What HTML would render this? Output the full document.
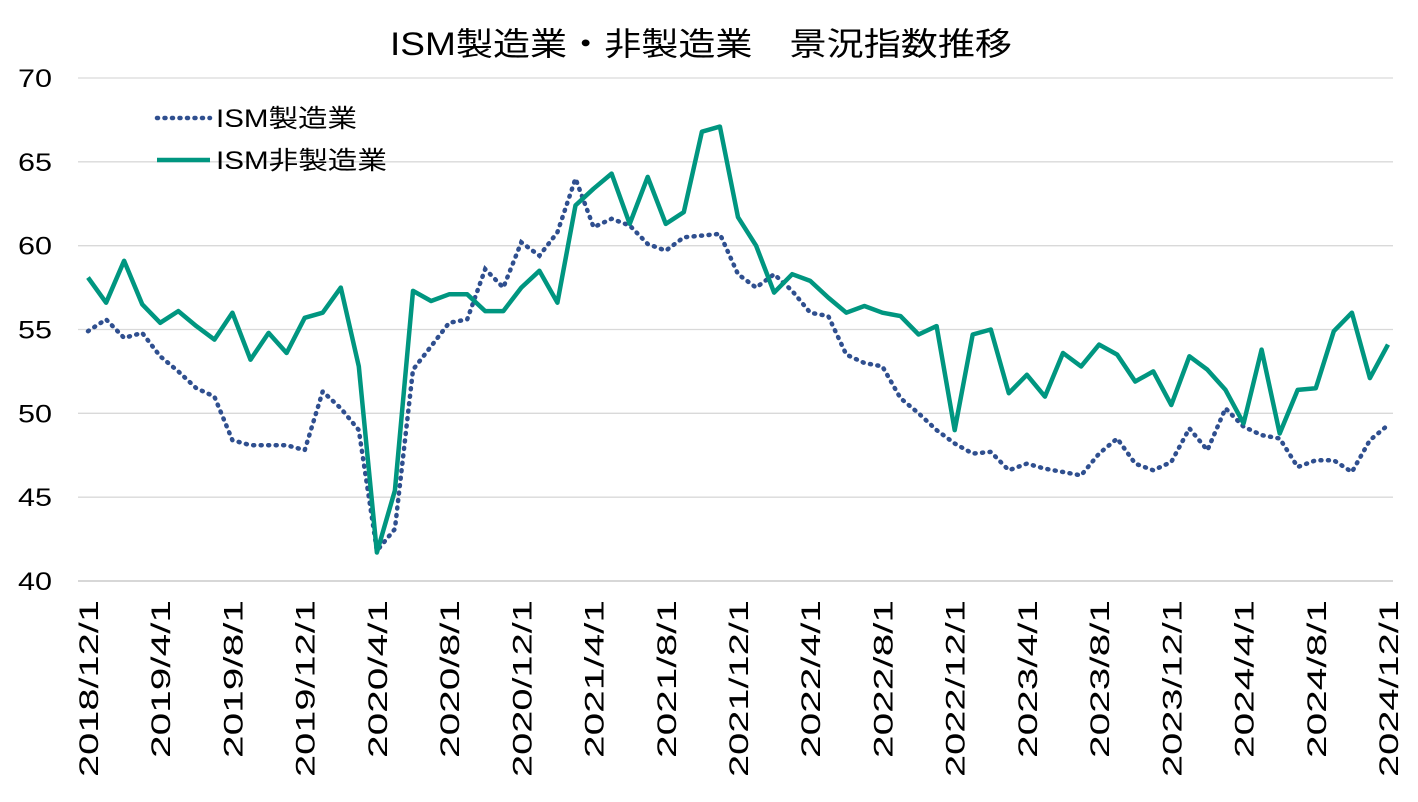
<!DOCTYPE html>
<html><head><meta charset="utf-8">
<style>
body{margin:0;background:#fff;}
svg text{font-family:"Liberation Sans","Noto Sans CJK JP",sans-serif;fill:#000;}
</style></head>
<body>
<svg id="chart" width="1418" height="797" xmlns="http://www.w3.org/2000/svg">
<text x="390" y="55" font-size="32" textLength="622" lengthAdjust="spacingAndGlyphs">ISM製造業・非製造業　景況指数推移</text>
<g id="grid"></g><g id="yt"></g><g id="xt"></g><g id="series"></g>
<g>
<line x1="157" y1="118" x2="210" y2="118" stroke="#2f4f8f" stroke-width="4.5" stroke-dasharray="1,6.5" stroke-linecap="round"/>
<text x="216" y="127" font-size="25" textLength="141" lengthAdjust="spacingAndGlyphs">ISM製造業</text>
<line x1="157" y1="160" x2="210" y2="160" stroke="#009680" stroke-width="4.5"/>
<text x="216" y="169" font-size="25" textLength="171" lengthAdjust="spacingAndGlyphs">ISM非製造業</text>
</g>
</svg>
<script>
const months = [];
for (let i = 0; i < 73; i++) { const m = (11 + i) % 12 + 1, y = 2018 + Math.floor((11 + i) / 12); months.push(y + "/" + m + "/1"); }
const yTicks = [40,45,50,55,60,65,70];
const manufacturing = [54.9,55.6,54.5,54.8,53.4,52.5,51.5,51.0,48.4,48.1,48.1,48.1,47.8,51.3,50.3,49.0,41.8,43.1,52.6,54.0,55.4,55.6,58.6,57.5,60.2,59.4,60.8,64.0,61.1,61.6,61.2,60.1,59.7,60.5,60.6,60.7,
58.3,57.5,58.3,57.3,56.0,55.8,53.5,53.0,52.8,50.9,50.0,49.0,48.2,47.6,47.7,46.6,47.0,46.7,46.5,46.3,47.6,48.5,47.0,46.6,47.1,49.1,47.8,50.3,49.2,48.7,48.5,46.8,47.2,47.2,46.5,48.4,49.3];
const nonManufacturing = [58.1,56.6,59.1,56.5,55.4,56.1,55.2,54.4,56.0,53.2,54.8,53.6,55.7,56.0,57.5,52.8,41.7,45.4,57.3,56.7,57.1,57.1,56.1,56.1,57.5,58.5,56.6,62.4,63.4,64.3,61.3,64.1,61.3,62.0,66.8,67.1,61.7,60.0,57.2,58.3,57.9,56.9,56.0,56.4,56.0,55.8,54.7,55.2,49.0,54.7,55.0,51.2,52.3,51.0,53.6,52.8,54.1,53.5,51.9,52.5,50.5,53.4,52.6,51.4,49.4,53.8,48.8,51.4,51.5,54.9,56.0,52.1,54.1];
const NS="http://www.w3.org/2000/svg";
const x0=88,x1=1388,yTop=78,yBot=581;
const xs=i=>x0+(x1-x0)*i/(months.length-1);
const ys=v=>yBot-(v-40)/(70-40)*(yBot-yTop);
function mk(tag,parent,attrs){const e=document.createElementNS(NS,tag);for(const k in attrs)e.setAttribute(k,attrs[k]);document.getElementById(parent).appendChild(e);return e;}
yTicks.forEach(v=>{
  const l=mk('line','grid',{x1:78,x2:1393,y1:ys(v),y2:ys(v),stroke:v===40?'#bfbfbf':'#d9d9d9','stroke-width':1.3});
  
  
  const t=mk('text','yt',{x:52,y:ys(v)+9,'font-size':25,'text-anchor':'end',textLength:34,lengthAdjust:'spacingAndGlyphs'});
  t.textContent=v;
  
  
});
months.forEach((m,i)=>{
  if(i%4!==0)return;
  const x=xs(i);
  const t=mk('text','xt',{x:0,y:0,'font-size':27,'text-anchor':'end',textLength:(m.length*19.7).toFixed(0),lengthAdjust:'spacingAndGlyphs',transform:`translate(${x+10},600) rotate(-90)`});
  t.textContent=m;
  
  
});
function path(arr){return arr.map((v,i)=>(i?'L':'M')+xs(i).toFixed(1)+','+ys(v).toFixed(1)).join(' ');}
const p1=mk('path','series',{d:path(manufacturing),fill:'none',stroke:'#2f4f8f','stroke-width':4.5,'stroke-dasharray':'1,6.5','stroke-linecap':'round'});


const p2=mk('path','series',{d:path(nonManufacturing),fill:'none',stroke:'#009680','stroke-width':4.5,'stroke-linejoin':'round'});


</script>
</body></html>
